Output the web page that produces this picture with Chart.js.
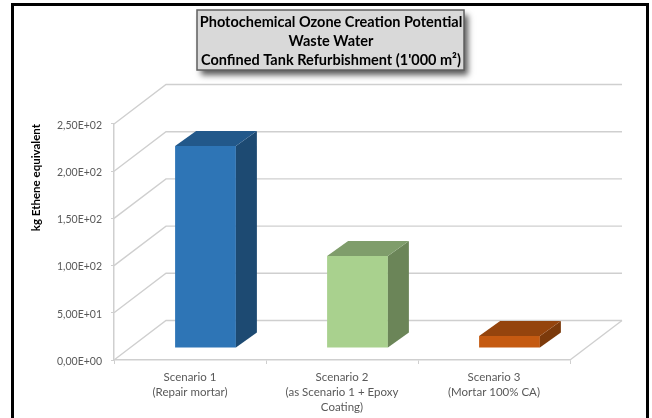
<!DOCTYPE html>
<html>
<head>
<meta charset="utf-8">
<style>
  html, body { margin: 0; padding: 0; background: #fff; overflow: hidden; }
  canvas { display: block; }
</style>
<script src="https://cdn.jsdelivr.net/npm/chart.js@4/dist/chart.umd.js"></script>
</head>
<body>
<canvas id="chart" width="652" height="418"></canvas>
<script>
// Data
const categories = [
    ['Scenario 1', '(Repair mortar)'],
    ['Scenario 2', '(as Scenario 1 + Epoxy', 'Coating)'],
    ['Scenario 3', '(Mortar 100% CA)']
];
const values = [214, 97.5, 12.7];
const yTickLabels = ['0,00E+00', '5,00E+01', '1,00E+02', '1,50E+02', '2,00E+02', '2,50E+02'];
const titleLines = ['Photochemical Ozone Creation Potential', 'Waste Water', "Confined Tank Refurbishment (1'000 m\u00b2)"];
const yAxisTitle = 'kg Ethene equivalent';

// Face colours of each bar
const frontColors = ['#2e75b6', '#a9d18e', '#c55a11'];
const topColors = ['#22588a', '#7f9d6b', '#94440d'];
const sideColors = ['#1d4a72', '#6b8558', '#7c3a0b'];

const gridColor = '#cfcfcf';
const labelColor = '#595959';

// Fake 3D offsets, in pixels
const wallDx = 52, wallDy = 39.5;
const barShiftX = 15.5, barShiftY = 12;
const barDx = 21, barDy = 15;

// Title sits over the box, not over the plot
const titleShift = 46;

function face(ctx, color, pts) {
    ctx.fillStyle = color;
    ctx.beginPath();
    pts.forEach((p, i) => i ? ctx.lineTo(p[0], p[1]) : ctx.moveTo(p[0], p[1]));
    ctx.closePath();
    ctx.fill();
}

// Frame, title box and the walls behind the bars
const backdrop = {
    id: 'backdrop',
    afterLayout(chart) {
        chart.titleBlock.left += titleShift;
        chart.titleBlock.right += titleShift;
    },
    beforeDraw(chart) {
        const ctx = chart.ctx;
        ctx.save();
        ctx.strokeStyle = '#000';
        ctx.lineWidth = 3;
        ctx.strokeRect(12.5, 4.5, 635, 430);

        ctx.shadowColor = 'rgba(0,0,0,0.65)';
        ctx.shadowBlur = 6;
        ctx.shadowOffsetX = 4;
        ctx.shadowOffsetY = 5;
        ctx.fillStyle = '#d9d9d9';
        ctx.fillRect(197, 10, 267, 60);
        ctx.shadowColor = 'transparent';
        ctx.strokeStyle = '#5f5f5f';
        ctx.lineWidth = 1.5;
        ctx.strokeRect(197, 10, 267, 60);
        ctx.restore();
    },
    beforeDatasetsDraw(chart) {
        const ctx = chart.ctx;
        const area = chart.chartArea;
        const y = chart.scales.y;
        ctx.save();
        ctx.strokeStyle = gridColor;
        ctx.lineWidth = 1.4;
        y.ticks.forEach(t => {
            const py = y.getPixelForValue(t.value);
            ctx.beginPath();
            ctx.moveTo(area.left, py);
            ctx.lineTo(area.left + wallDx, py - wallDy);
            ctx.lineTo(area.right + wallDx, py - wallDy);
            ctx.stroke();
        });
        ctx.beginPath();
        ctx.moveTo(area.right, area.bottom);
        ctx.lineTo(area.right + wallDx, area.bottom - wallDy);
        ctx.stroke();
        ctx.restore();

        // front faces sit further back than the axis line
        ctx.save();
        ctx.translate(barShiftX, -barShiftY);
    },
    afterDatasetsDraw(chart) {
        const ctx = chart.ctx;
        ctx.restore();
        chart.getDatasetMeta(0).data.forEach((bar, i) => {
            const l = bar.x - bar.width / 2 + barShiftX;
            const r = bar.x + bar.width / 2 + barShiftX;
            const t = bar.y - barShiftY;
            const b = bar.base - barShiftY;
            face(ctx, sideColors[i], [[r, t], [r + barDx, t - barDy], [r + barDx, b - barDy], [r, b]]);
            face(ctx, topColors[i], [[l, t], [l + barDx, t - barDy], [r + barDx, t - barDy], [r, t]]);
        });
    }
};

new Chart(document.getElementById('chart'), {
    type: 'bar',
    plugins: [backdrop],
    data: {
        labels: categories,
        datasets: [{
            data: values,
            backgroundColor: frontColors,
            barPercentage: 0.4,
            categoryPercentage: 1
        }]
    },
    options: {
        responsive: false,
        animation: false,
        layout: { padding: { left: 0, right: 82, top: 0, bottom: 0 } },
        plugins: {
            legend: { display: false },
            tooltip: { enabled: false },
            title: {
                display: true,
                text: titleLines,
                color: '#000',
                font: { family: 'Lato', size: 14.5, weight: 'bold', lineHeight: 1.31 },
                padding: { top: 13, bottom: 54 }
            }
        },
        scales: {
            x: {
                afterFit: (scale) => { scale.height = 58; },
                grid: { drawOnChartArea: false, color: gridColor, tickLength: 4 },
                border: { color: gridColor, width: 1.5 },
                ticks: {
                    color: labelColor,
                    padding: 6,
                    maxRotation: 0,
                    autoSkip: false,
                    font: { family: 'Lato', size: 11.5, lineHeight: 1.28 }
                }
            },
            y: {
                min: 0,
                max: 250,
                afterFit: (scale) => { scale.width = 114; },
                grid: { drawOnChartArea: false, color: gridColor, tickLength: 3 },
                border: { color: gridColor, width: 1.5 },
                title: {
                    display: true,
                    text: yAxisTitle,
                    align: 'end',
                    color: '#000',
                    font: { family: 'Lato', size: 11.5, weight: 'bold' },
                    padding: { top: 29, bottom: 0 }
                },
                ticks: {
                    stepSize: 50,
                    color: labelColor,
                    padding: 9,
                    labelOffset: 1.5,
                    font: { family: 'Lato', size: 10.5 },
                    callback: (value, index) => yTickLabels[index]
                }
            }
        }
    }
});
</script>
</body>
</html>
